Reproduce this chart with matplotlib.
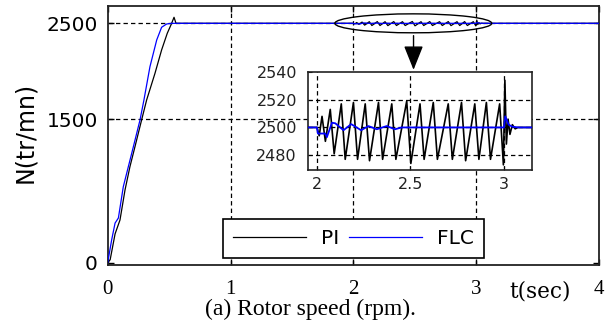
import matplotlib
matplotlib.use("Agg")
import matplotlib.pyplot as plt
from matplotlib.patches import Ellipse

# ---------------- data ----------------
# start-up ramp
pi_ramp_t = [0.0, 0.02, 0.06, 0.100, 0.141, 0.181, 0.222, 0.276, 0.317, 0.385, 0.439, 0.485, 0.515, 0.540, 0.556]
pi_ramp_n = [0, 30, 300, 445, 759, 1002, 1211, 1490, 1699, 1978, 2222, 2396, 2483, 2563, 2500]
flc_ramp_t = [0.0, 0.032, 0.060, 0.087, 0.127, 0.168, 0.209, 0.263, 0.295, 0.344, 0.399, 0.439, 0.480, 0.520]
flc_ramp_n = [0, 236, 413, 466, 793, 1002, 1211, 1490, 1699, 2047, 2326, 2459, 2493, 2500]

# load disturbance between 2 s and 3 s
pi_osc_t = [2.000, 2.012, 2.027, 2.045, 2.071, 2.092, 2.130, 2.151, 2.195, 2.217,
            2.258, 2.281, 2.329, 2.351, 2.400, 2.422, 2.480, 2.502, 2.551, 2.573,
            2.622, 2.644, 2.702, 2.724, 2.773, 2.795, 2.844, 2.866, 2.906, 2.928,
            2.977, 2.997, 3.005, 3.013, 3.022, 3.032, 3.045, 3.060, 3.075]
pi_osc_n = [2500, 2494, 2508, 2490, 2513, 2481, 2517, 2477, 2518, 2477,
            2517, 2476, 2518, 2477, 2517, 2477, 2519, 2474, 2517, 2477,
            2518, 2477, 2517, 2477, 2518, 2476, 2517, 2477, 2518, 2477,
            2517, 2473, 2534, 2488, 2506, 2495, 2502, 2499, 2500]
flc_osc_t = [2.000, 2.005, 2.044, 2.053, 2.080, 2.098, 2.142, 2.183, 2.236, 2.275,
             2.320, 2.373, 2.417, 2.453, 3.000, 3.007, 3.025, 3.045, 3.080]
flc_osc_n = [2500, 2495.6, 2495.6, 2493, 2503.4, 2503, 2498, 2502.4, 2498, 2501,
             2498.7, 2501, 2498.7, 2500, 2500, 2508, 2502, 2500.5, 2500]

t_end = 4.0
n_ref = 2500

pi_t = pi_ramp_t + pi_osc_t + [t_end]
pi_n = pi_ramp_n + pi_osc_n + [n_ref]
flc_t = flc_ramp_t + flc_osc_t + [t_end]
flc_n = flc_ramp_n + flc_osc_n + [n_ref]

x_ticks = [0, 1, 2, 3, 4]
x_ticklabels = ["0", "1", "2", "3", "4"]
y_ticks = [0, 1500, 2500]
in_x_ticks = [2, 2.5, 3]
in_x_ticklabels = ["2", "2.5", "3"]
in_y_ticks = [2480, 2500, 2520, 2540]
series_labels = ["PI", "FLC"]

# ---------------- figure ----------------
W, H = 616, 329
fig = plt.figure(figsize=(W / 100, H / 100), dpi=100)

def fx(px):
    return px / W

def fy(py):
    return 1 - py / H

ax = fig.add_axes([fx(107.7), fy(265), fx(599) - fx(107.7), fy(6) - fy(265)])
ax.set_xlim(0, 4)
ax.set_ylim(-25, 2681)

grid_ls = (0, (3.5, 2.5))
for xv in [1, 2, 3]:
    ax.axvline(xv, color="black", lw=0.9, ls=grid_ls, zorder=1)
for yv in [1500, 2500]:
    ax.axhline(yv, color="black", lw=0.9, ls=grid_ls, zorder=1)

ax.plot(pi_t, pi_n, color="black", lw=0.9, label=series_labels[0], zorder=3)
ax.plot(flc_t, flc_n, color="#0000ff", lw=0.9, label=series_labels[1], zorder=4)

ax.set_xticks(x_ticks)
ax.set_xticklabels(x_ticklabels, family="Liberation Serif", fontsize=15)
ax.set_yticks(y_ticks)
ax.set_yticklabels([str(v) for v in y_ticks], family="DejaVu Sans", fontsize=14.5)
ax.tick_params(axis="x", direction="in", length=4, pad=11, top=True, width=1)
ax.tick_params(axis="y", direction="in", length=4, pad=7, right=True, width=1)
for s in ax.spines.values():
    s.set_linewidth(1.3)
    s.set_color("#222222")

ax.text(3.52, -190, "t(sec)", ha="center", va="top",
        family="DejaVu Serif", fontsize=15.5)

fig.text(fx(25), fy(132.5), "N(tr/mn)", rotation=90, ha="center", va="center",
         family="DejaVu Sans", fontsize=17)
fig.text(fx(310), fy(309), "(a) Rotor speed (rpm).", ha="center", va="center",
         family="Liberation Serif", fontsize=17)

leg = ax.legend(loc="center", bbox_to_anchor=(0.5, 0.102), ncol=2,
                prop={"family": "DejaVu Sans", "size": 14.5},
                handlelength=3.6, handletextpad=0.75, columnspacing=0.5,
                borderpad=0.5, fancybox=False, framealpha=1, edgecolor="black")
leg.get_frame().set_linewidth(1.2)

# ellipse and arrow
ell = Ellipse((2.488, 2500), 1.277, 198, fill=False, edgecolor="black", lw=1.0, zorder=5)
ax.add_patch(ell)
ax.annotate("", xy=(2.49, 1985), xytext=(2.49, 2400),
            arrowprops=dict(arrowstyle="-|>,head_width=0.4,head_length=1.0",
                            color="black", lw=1.0, mutation_scale=15),
            zorder=6)

# ---------------- inset ----------------
axi = fig.add_axes([fx(308), fy(170), fx(532) - fx(308), fy(72) - fy(170)])
axi.set_zorder(5)
axi.set_xlim(1.952, 3.15)
axi.set_ylim(2469.3, 2539.3)
for xv in in_x_ticks:
    axi.axvline(xv, color="black", lw=0.9, ls=grid_ls, zorder=1)
for yv in [2480, 2500, 2520]:
    axi.axhline(yv, color="black", lw=0.9, ls=grid_ls, zorder=1)
axi.plot([1.952] + pi_osc_t + [3.15], [n_ref] + pi_osc_n + [n_ref], color="black", lw=1.2, zorder=3)
axi.plot([1.952] + flc_osc_t + [3.15], [n_ref] + flc_osc_n + [n_ref], color="#0000ff", lw=1.3, zorder=4)
axi.set_xticks(in_x_ticks)
axi.set_xticklabels(in_x_ticklabels, family="DejaVu Sans", fontsize=11.5, color="#222222")
axi.set_yticks(in_y_ticks)
axi.set_yticklabels([str(v) for v in in_y_ticks], family="DejaVu Sans", fontsize=11.5, color="#222222")
axi.tick_params(axis="x", direction="in", length=3, pad=5)
axi.tick_params(axis="y", direction="in", length=3, pad=8)
for s in axi.spines.values():
    s.set_linewidth(1.2)
    s.set_color("#222222")

fig.savefig("out.png", dpi=100)
